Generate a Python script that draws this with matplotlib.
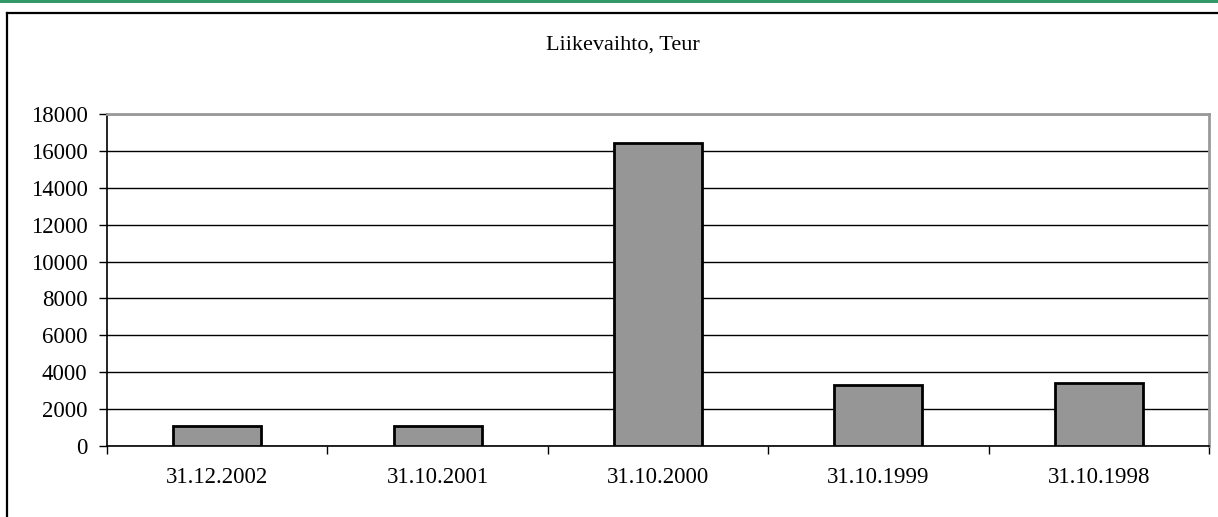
import matplotlib
matplotlib.use("Agg")
import matplotlib.pyplot as plt
from matplotlib.patches import Rectangle
from matplotlib.lines import Line2D

# data
categories = ["31.12.2002", "31.10.2001", "31.10.2000", "31.10.1999", "31.10.1998"]
values = [1100, 1100, 16450, 3330, 3430]
yticks = list(range(0, 18001, 2000))

plt.rcParams["font.family"] = ["Liberation Serif", "DejaVu Serif"]

fig = plt.figure(figsize=(12.18, 5.17), dpi=100)

# green strip at the very top and black outer frame
fig.add_artist(Rectangle((0, 1 - 3 / 517), 1, 3 / 517, transform=fig.transFigure,
                         facecolor="#339966", edgecolor="none"))
fig.add_artist(Line2D([7 / 1218, 1], [1 - 13 / 517, 1 - 13 / 517],
                      transform=fig.transFigure, color="black", lw=1.6))
fig.add_artist(Line2D([7 / 1218, 7 / 1218], [0, 1 - 13 / 517],
                      transform=fig.transFigure, color="black", lw=1.6))

ax = fig.add_axes([107 / 1218, 71 / 517, 1102 / 1218, 332 / 517])

x = list(range(len(categories)))
ax.bar(x, values, width=0.4, color="#969696", edgecolor="black", linewidth=2, zorder=3)

ax.set_xlim(-0.5, len(categories) - 0.5)
ax.set_ylim(0, 18000)
ax.set_yticks(yticks)
ax.set_yticklabels([str(v) for v in yticks], fontsize=16.5)
ax.yaxis.grid(True, color="black", linewidth=1, zorder=0)
ax.set_axisbelow(True)

# x ticks at the category boundaries, labels centred under the bars
ax.set_xticks([i - 0.5 for i in range(len(categories) + 1)])
ax.set_xticklabels([])
ax.set_xticks(x, minor=True)
ax.set_xticklabels(categories, minor=True, fontsize=16.5)
ax.tick_params(axis="x", which="minor", length=0, pad=15)
ax.tick_params(axis="x", which="major", length=6, width=1, direction="out")
ax.tick_params(axis="y", length=6, width=1, direction="out", pad=8)

for s in ["top", "right"]:
    ax.spines[s].set_color("#999999")
    ax.spines[s].set_linewidth(2)
for s in ["left", "bottom"]:
    ax.spines[s].set_color("black")
    ax.spines[s].set_linewidth(1.2)

fig.text(623 / 1218, 1 - 45 / 517, "Liikevaihto, Teur", ha="center", va="center", fontsize=16)

fig.savefig("out.png", dpi=100)
